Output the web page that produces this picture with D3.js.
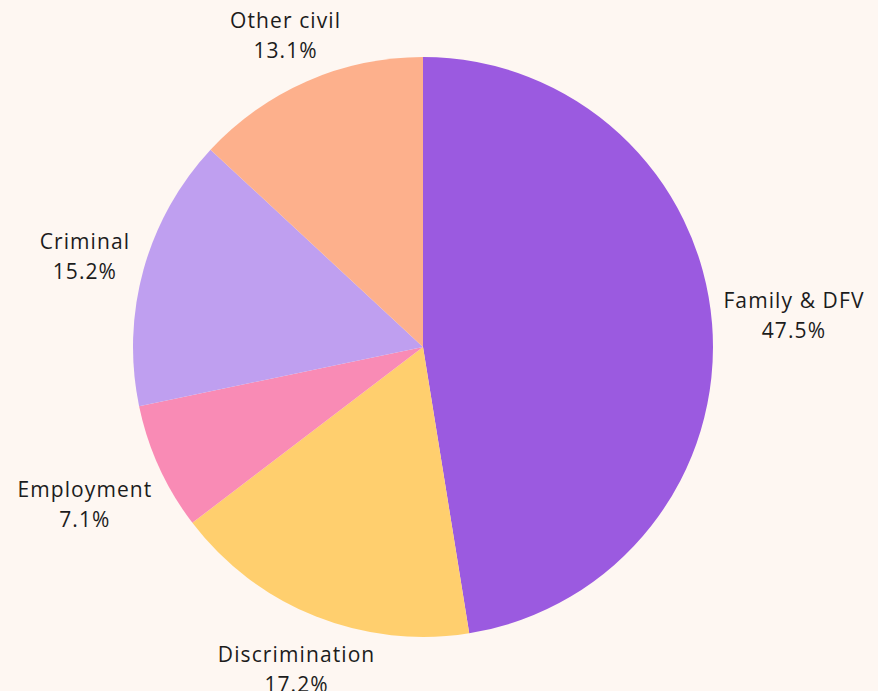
<!DOCTYPE html>
<html><head><meta charset="utf-8">
<script src="https://cdn.jsdelivr.net/npm/d3@7"></script>
<style>html,body{margin:0;padding:0;background:#fef7f2;}svg{display:block;}</style>
</head><body>
<svg id="chart" width="878" height="691"></svg>
<script>
const categories = ["Family & DFV", "Discrimination", "Employment", "Criminal", "Other civil"];
const values = [47.5, 17.2, 7.1, 15.2, 13.1];
const valueLabels = ["47.5%", "17.2%", "7.1%", "15.2%", "13.1%"];
const colors = ["#9b5ae0", "#ffcf6e", "#f98bb5", "#bf9ff0", "#fdb08c"];

const svg = d3.select("#chart");
const W = 878, H = 691;
svg.append("rect").attr("width", W).attr("height", H).attr("fill", "#fef7f2");
const cx = 423, cy = 347, r = 290;
const g = svg.append("g").attr("transform", `translate(${cx},${cy})`);
const data = categories.map((c, i) => ({c, v: values[i], lab: valueLabels[i], col: colors[i]}));
const pie = d3.pie().value(d => d.v).sort(null);
const arc = d3.arc().innerRadius(0).outerRadius(r);
const arcs = pie(data);
g.selectAll("path").data(arcs).join("path").attr("d", arc).attr("fill", d => d.data.col);

// label layout tweaks (layout only)
const nudgeX = [1.6, 14, -3.8, -5.5, 4.7];
const nudgeY = [-3.5, 1.6, 14.6, 2.5, 4.6];
const font = "'Open Sans', sans-serif";
const fs = 21, lh = 30;
arcs.forEach((a, i) => {
  const m = (a.startAngle + a.endAngle) / 2;
  const ux = Math.sin(m), uy = -Math.cos(m);
  const R = 300;
  const t = g.append("text").attr("font-family", font).attr("font-size", fs)
    .attr("letter-spacing", 1.1).attr("fill", "#1c1c1c").attr("text-anchor", "middle");
  t.append("tspan").attr("x", 0).attr("y", 0).text(a.data.c);
  t.append("tspan").attr("x", 0).attr("y", lh).text(a.data.lab);
  const w = t.node().getBBox().width;
  const bx = R * ux + ux * w / 2 + nudgeX[i];
  const by = R * uy + uy * 45 + nudgeY[i];
  t.attr("transform", `translate(${bx},${by - 7.5})`);
});
</script>
</body></html>
